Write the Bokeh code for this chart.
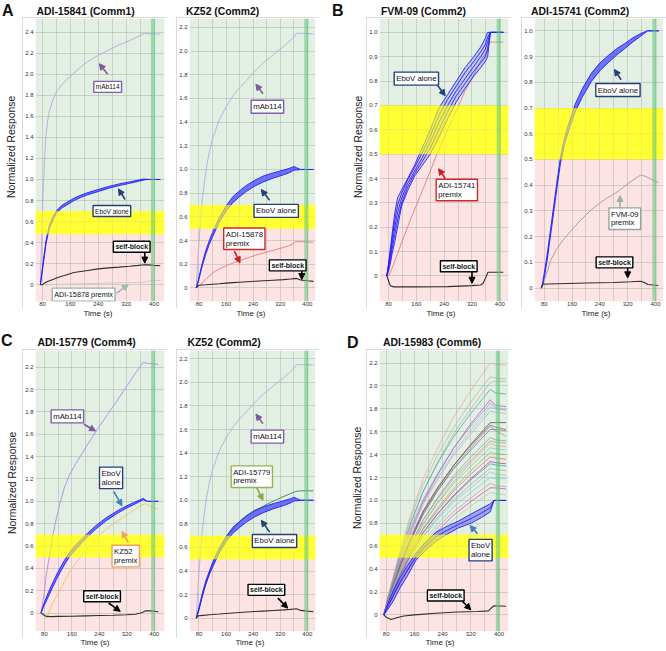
from bokeh.plotting import figure
from bokeh.models import (Range1d, BoxAnnotation, Label, Arrow, NormalHead,
                          FixedTicker, CustomJSTickFormatter, Div, Spacer)
from bokeh.layouts import row, column
from bokeh.embed import file_html
from bokeh.resources import INLINE

FONT = "Liberation Sans"
CSS_FONT = "'Liberation Sans', Arial, sans-serif"
GREEN_BG = "#e3efe3"
PINK_BG = "#fde3e3"
YELLOW = "#ffff33"
VBAND = "#5cc47a"
EBOV = "#1f1fff"
SELF = "#2e2e2e"
NAVY = "#22407a"
PURPLE = "#7f5fa8"
RED = "#cc2a2a"

# ---------------- ticks ----------------
X_TICKS = [80, 160, 240, 320, 400]
X_GRID = [40, 80, 120, 160, 200, 240, 280, 320, 360, 400, 440]
Y_TICKS_24 = [0, 0.2, 0.4, 0.6, 0.8, 1.0, 1.2, 1.4, 1.6, 1.8, 2.0, 2.2, 2.4]
Y_TICKS_22 = [0, 0.2, 0.4, 0.6, 0.8, 1.0, 1.2, 1.4, 1.6, 1.8, 2.0, 2.2]
Y_TICKS_10 = [0, 0.1, 0.2, 0.3, 0.4, 0.5, 0.6, 0.7, 0.8, 0.9, 1.0]

# ---------------- A1: ADI-15841 (Comm1) ----------------
A1_T = [74, 78, 82, 86, 90, 95, 100, 110, 120, 135, 150, 170, 190, 210, 240, 270, 300, 330, 355, 372, 385, 400, 418]
A1_MAB = [0, 0.45, 0.9, 1.2, 1.42, 1.56, 1.65, 1.76, 1.83, 1.9, 1.95, 2.01, 2.07, 2.12, 2.18, 2.23, 2.28, 2.32, 2.36, 2.39, 2.385, 2.385, 2.38]
A1_EBOV_HI = [0, 0.11, 0.215, 0.315, 0.415, 0.495, 0.565, 0.643, 0.703, 0.752, 0.782, 0.821, 0.851, 0.875, 0.905, 0.934, 0.958, 0.977, 0.994, 1.004, 1.0, 1.0, 1.0]
A1_EBOV_LO = [0, 0.09, 0.185, 0.285, 0.385, 0.465, 0.535, 0.617, 0.677, 0.728, 0.758, 0.799, 0.829, 0.855, 0.885, 0.916, 0.942, 0.963, 0.982, 0.996, 1.0, 1.0, 1.0]
A1_SELF = [0, 0, 0.005, 0.015, 0.022, 0.03, 0.037, 0.05, 0.063, 0.08, 0.095, 0.115, 0.125, 0.135, 0.15, 0.16, 0.167, 0.175, 0.183, 0.19, 0.188, 0.183, 0.18]
A1_PREMIX_T = [74, 100, 150, 200, 270, 330, 372, 385, 400, 418]
A1_PREMIX = [0, 0.0, 0.005, 0.01, 0.015, 0.02, 0.022, 0.035, 0.04, 0.04]

# ---------------- KZ52 (Comm2), shared by A2 and C2 ----------------
K_T = [72, 78, 84, 90, 100, 110, 120, 140, 160, 180, 200, 220, 245, 270, 300, 330, 350, 361, 368, 380, 400, 418]
K_MAB = [0, 0.3, 0.55, 0.75, 0.98, 1.14, 1.26, 1.42, 1.53, 1.62, 1.69, 1.75, 1.83, 1.9, 1.97, 2.04, 2.09, 2.12, 2.15, 2.15, 2.15, 2.145]
K_EBOV_HI = [0, 0.068, 0.14, 0.212, 0.315, 0.395, 0.468, 0.595, 0.692, 0.77, 0.82, 0.865, 0.91, 0.945, 0.972, 0.995, 1.013, 1.025, 1.015, 1.0, 1.0, 1.0]
K_EBOV_LO = [0, 0.052, 0.12, 0.188, 0.285, 0.365, 0.432, 0.555, 0.648, 0.72, 0.77, 0.815, 0.86, 0.895, 0.928, 0.955, 0.977, 0.995, 0.995, 1.0, 1.0, 1.0]
K_SELF = [0, 0.02, 0.022, 0.024, 0.026, 0.029, 0.031, 0.035, 0.04, 0.044, 0.048, 0.052, 0.056, 0.06, 0.065, 0.07, 0.075, 0.078, 0.08, 0.066, 0.06, 0.055]
A2_PREMIX_T = [72, 80, 100, 119, 140, 167, 200, 230, 264, 290, 322, 345, 356, 365, 380, 418]
A2_PREMIX = [0, 0.02, 0.07, 0.125, 0.16, 0.195, 0.23, 0.26, 0.29, 0.31, 0.335, 0.355, 0.37, 0.39, 0.39, 0.385]
C2_PREMIX_T = [72, 80, 90, 100, 109, 128, 150, 167, 190, 215, 240, 264, 290, 320, 345, 366, 380, 418]
C2_PREMIX = [0, 0.07, 0.19, 0.29, 0.37, 0.52, 0.63, 0.71, 0.79, 0.86, 0.91, 0.94, 0.98, 1.02, 1.05, 1.075, 1.08, 1.08]

# ---------------- B1: FVM-09 (Comm2) ----------------
B1_T = [75, 80, 85, 90, 98, 106, 118, 135, 155, 175, 200, 225, 250, 275, 300, 325, 345, 358, 365, 373, 390, 410]
B1_EBOV_1 = [0, 0.05, 0.11, 0.17, 0.26, 0.32, 0.355, 0.40, 0.455, 0.52, 0.60, 0.69, 0.745, 0.80, 0.855, 0.90, 0.94, 0.975, 1.0, 1.0, 1.0, 1.0]
B1_EBOV_2 = [0, 0.045, 0.095, 0.15, 0.23, 0.29, 0.34, 0.395, 0.445, 0.5, 0.575, 0.66, 0.725, 0.78, 0.835, 0.88, 0.92, 0.95, 0.98, 1.0, 1.0, 1.0]
B1_EBOV_3 = [0, 0.04, 0.08, 0.13, 0.2, 0.26, 0.32, 0.38, 0.43, 0.48, 0.55, 0.63, 0.70, 0.76, 0.81, 0.86, 0.9, 0.93, 0.96, 1.0, 1.0, 1.0]
B1_EBOV_4 = [0, 0.03, 0.065, 0.11, 0.17, 0.23, 0.3, 0.365, 0.42, 0.465, 0.525, 0.60, 0.675, 0.74, 0.79, 0.84, 0.875, 0.9, 0.93, 1.0, 1.0, 1.0]
B1_EBOV_5 = [0, 0.02, 0.05, 0.09, 0.14, 0.2, 0.29, 0.35, 0.41, 0.45, 0.5, 0.57, 0.645, 0.715, 0.77, 0.82, 0.855, 0.88, 0.9, 1.0, 1.0, 1.0]
B1_PREMIX_T = [75, 80, 90, 100, 120, 140, 160, 180, 200, 219, 250, 282, 300, 320, 340, 355, 362, 368, 380, 410]
B1_PREMIX = [0, 0.0, 0.03, 0.07, 0.145, 0.22, 0.29, 0.36, 0.43, 0.5, 0.6, 0.7, 0.76, 0.81, 0.87, 0.905, 0.92, 0.96, 0.96, 0.96]
B1_SELF_T = [75, 80, 85, 95, 150, 250, 320, 345, 352, 360, 366, 380, 410]
B1_SELF = [0, -0.02, -0.04, -0.045, -0.045, -0.044, -0.04, -0.037, -0.03, -0.005, 0.015, 0.015, 0.015]

# ---------------- B2: ADI-15741 (Comm2) ----------------
B2_T = [72, 76, 80, 85, 90, 95, 100, 110, 118, 127, 140, 155, 169, 190, 216, 240, 264, 290, 311, 335, 358, 377, 390, 410]
B2_EBOV_HI = [0, 0.025, 0.058, 0.1, 0.147, 0.197, 0.247, 0.347, 0.427, 0.512, 0.593, 0.659, 0.715, 0.776, 0.836, 0.875, 0.904, 0.932, 0.95, 0.973, 0.99, 1.0, 1.0, 1.0]
B2_EBOV_LO = [0, 0.015, 0.042, 0.08, 0.123, 0.173, 0.223, 0.323, 0.403, 0.488, 0.567, 0.631, 0.685, 0.744, 0.804, 0.845, 0.876, 0.908, 0.93, 0.957, 0.98, 1.0, 1.0, 1.0]
B2_PREMIX_T = [71, 75, 80, 90, 99, 115, 136, 155, 175, 200, 220, 240, 260, 280, 296, 315, 335, 358, 370, 385, 408]
B2_PREMIX = [0, 0.01, 0.03, 0.07, 0.11, 0.15, 0.19, 0.22, 0.25, 0.285, 0.31, 0.33, 0.35, 0.365, 0.38, 0.4, 0.42, 0.44, 0.435, 0.425, 0.41]
B2_SELF_T = [71, 76, 90, 120, 200, 280, 330, 358, 368, 378, 395, 408]
B2_SELF = [0, 0.015, 0.016, 0.017, 0.02, 0.022, 0.025, 0.027, 0.022, 0.014, 0.012, 0.01]

# ---------------- C1: ADI-15779 (Comm4) ----------------
C1_T = [70, 78, 85, 95, 104, 115, 125, 138, 152, 170, 190, 210, 229, 260, 296, 320, 344, 368, 380, 400, 412]
C1_MAB = [0, 0.15, 0.33, 0.52, 0.69, 0.85, 0.98, 1.12, 1.23, 1.33, 1.43, 1.53, 1.62, 1.76, 1.92, 2.03, 2.14, 2.245, 2.235, 2.23, 2.225]
C1_EBOV_HI = [0, 0.08, 0.135, 0.21, 0.27, 0.34, 0.4, 0.47, 0.54, 0.605, 0.668, 0.726, 0.78, 0.853, 0.921, 0.96, 0.994, 1.026, 1.0, 1.0, 1.0]
C1_EBOV_LO = [0, 0.06, 0.105, 0.17, 0.23, 0.3, 0.36, 0.43, 0.5, 0.565, 0.632, 0.694, 0.75, 0.827, 0.899, 0.94, 0.976, 1.014, 1.0, 1.0, 1.0]
C1_PREMIX_T = [70, 80, 87, 95, 104, 115, 125, 138, 152, 165, 180, 195, 210, 230, 248, 265, 280, 306, 325, 340, 355, 373, 390, 412]
C1_PREMIX = [0, -0.03, -0.045, 0.02, 0.09, 0.15, 0.2, 0.28, 0.36, 0.42, 0.48, 0.54, 0.59, 0.66, 0.72, 0.76, 0.8, 0.85, 0.89, 0.92, 0.95, 0.98, 0.95, 0.93]
C1_SELF_T = [70, 78, 85, 100, 120, 160, 200, 240, 280, 320, 345, 360, 368, 375, 390, 412]
C1_SELF = [0, -0.015, -0.03, -0.032, -0.03, -0.028, -0.025, -0.022, -0.02, -0.015, -0.01, 0.0, 0.01, 0.02, 0.02, 0.012]

# ---------------- D: ADI-15983 (Comm6) ----------------
D_T = [73, 85, 100, 120, 150, 185, 225, 270, 320, 375, 390, 420]
D_VALUES = [
    [0, 0.15, 0.33, 0.57, 0.88, 1.19, 1.45, 1.72, 1.96, 2.20, 2.19, 2.18],
    [0, 0.16, 0.33, 0.56, 0.85, 1.14, 1.39, 1.63, 1.86, 2.08, 2.07, 2.06],
    [0, 0.13, 0.29, 0.51, 0.79, 1.08, 1.33, 1.58, 1.80, 2.03, 2.04, 2.04],
    [0, 0.15, 0.31, 0.53, 0.81, 1.08, 1.32, 1.55, 1.76, 1.97, 1.94, 1.93],
    [0, 0.12, 0.27, 0.47, 0.73, 0.99, 1.22, 1.45, 1.67, 1.88, 1.83, 1.82],
    [0, 0.14, 0.29, 0.50, 0.76, 1.01, 1.23, 1.45, 1.65, 1.85, 1.81, 1.79],
    [0, 0.12, 0.26, 0.46, 0.71, 0.97, 1.19, 1.41, 1.61, 1.82, 1.80, 1.79],
    [0, 0.13, 0.28, 0.48, 0.73, 0.97, 1.18, 1.39, 1.58, 1.78, 1.77, 1.76],
    [0, 0.11, 0.24, 0.43, 0.66, 0.90, 1.10, 1.30, 1.49, 1.68, 1.68, 1.68],
    [0, 0.13, 0.27, 0.45, 0.68, 0.91, 1.11, 1.30, 1.48, 1.66, 1.64, 1.62],
    [0, 0.11, 0.24, 0.42, 0.65, 0.88, 1.08, 1.28, 1.46, 1.65, 1.61, 1.56],
    [0, 0.12, 0.25, 0.43, 0.66, 0.88, 1.08, 1.27, 1.44, 1.62, 1.62, 1.61],
    [0, 0.10, 0.22, 0.39, 0.61, 0.83, 1.02, 1.21, 1.38, 1.55, 1.53, 1.52],
    [0, 0.11, 0.24, 0.40, 0.62, 0.83, 1.01, 1.19, 1.35, 1.52, 1.51, 1.50],
    [0, 0.10, 0.22, 0.38, 0.59, 0.80, 0.98, 1.16, 1.33, 1.50, 1.48, 1.47],
    [0, 0.11, 0.23, 0.39, 0.59, 0.79, 0.97, 1.14, 1.30, 1.46, 1.45, 1.44],
    [0, 0.09, 0.20, 0.36, 0.56, 0.76, 0.93, 1.10, 1.26, 1.42, 1.41, 1.40],
    [0, 0.10, 0.21, 0.36, 0.56, 0.75, 0.91, 1.08, 1.23, 1.38, 1.37, 1.36],
    [0, 0.09, 0.19, 0.34, 0.53, 0.72, 0.88, 1.04, 1.19, 1.34, 1.33, 1.32],
    [0, 0.10, 0.21, 0.35, 0.53, 0.72, 0.88, 1.03, 1.18, 1.32, 1.31, 1.30],
    [0, 0.09, 0.19, 0.33, 0.51, 0.69, 0.85, 1.00, 1.14, 1.28, 1.27, 1.26],
    [0, 0.09, 0.19, 0.33, 0.50, 0.68, 0.83, 0.98, 1.11, 1.25, 1.23, 1.22],
    [0, 0.08, 0.18, 0.31, 0.48, 0.65, 0.79, 0.94, 1.07, 1.20, 1.19, 1.19],
    [0, 0.08, 0.17, 0.30, 0.46, 0.62, 0.76, 0.90, 1.02, 1.15, 1.13, 1.12],
    [0, 0.08, 0.17, 0.29, 0.44, 0.60, 0.73, 0.87, 0.99, 1.11, 1.11, 1.10],
    [0, 0.07, 0.16, 0.28, 0.43, 0.58, 0.71, 0.83, 0.95, 1.07, 1.06, 1.05],
]
D_COLORS = ["#e9a3a3", "#9cc47c", "#b4a0d8", "#3aa39a", "#c23fbf", "#8b8bd0", "#7fc6e6",
            "#d0a0c8", "#3a3a3a", "#b05050", "#8c8c8c", "#6a64b0", "#5cb85c", "#c77dc7",
            "#e3a15a", "#5fc9c9", "#a8a83c", "#d66090", "#c0208a", "#4a86c8", "#86b886",
            "#a9aee6", "#5fd4d4", "#e07fc0", "#d03fa0", "#9fd09f"]
D_EB_T = [73, 85, 100, 120, 140, 165, 190, 220, 250, 285, 320, 350, 375, 386, 420]
D_EBOV_HI = [0, 0.1, 0.21, 0.33, 0.43, 0.54, 0.63, 0.72, 0.77, 0.82, 0.88, 0.93, 0.97, 1.0, 1.0]
D_EBOV_MID = [0, 0.075, 0.165, 0.285, 0.385, 0.51, 0.595, 0.68, 0.735, 0.79, 0.84, 0.89, 0.935, 1.0, 1.0]
D_EBOV_LO = [0, 0.05, 0.12, 0.24, 0.34, 0.48, 0.56, 0.64, 0.7, 0.76, 0.8, 0.85, 0.9, 1.0, 1.0]
D_SELF_T = [73, 80, 94, 110, 130, 160, 220, 280, 340, 370, 378, 386, 420]
D_SELF = [0, -0.02, -0.04, -0.025, -0.01, 0.0, 0.015, 0.025, 0.03, 0.035, 0.06, 0.08, 0.075]

# ---------------- text outside the plot boxes: (left, top, size, text) ----------------
TOP_HEADER = [(2, 2.5, 16, "A"), (36.5, 7, 10.4, "ADI-15841 (Comm1)"), (186, 7, 10.4, "KZ52 (Comm2)"),
              (332, 2.5, 16, "B"), (381, 7, 10.4, "FVM-09 (Comm2)"), (531, 7, 10.4, "ADI-15741 (Comm2)")]
BOT_HEADER = [(1, 12.5, 16, "C"), (37.5, 17.5, 10.4, "ADI-15779 (Comm4)"),
              (187.5, 17.5, 10.4, "KZ52 (Comm2)"),
              (347, 14.5, 16, "D"), (383, 18, 10.4, "ADI-15983 (Comm6)")]
XLABEL_CENTERS_TOP = [98, 251, 441, 596]
XLABEL_CENTERS_BOT = [95, 250, 440]


def header_div(width, height, items):
    spans = "".join(
        f'<span style="position:absolute;left:{x}px;top:{t}px;font-size:{s}px;font-weight:bold;'
        f'line-height:1;white-space:nowrap;color:#111;">{txt}</span>'
        for x, t, s, txt in items)
    html = (f'<div style="position:relative;width:{width}px;height:{height}px;'
            f'font-family:{CSS_FONT};">{spans}</div>')
    return Div(text=html, width=width, height=height, margin=(0, 0, 0, 0))


def xlabel_div(width, height, centers, top):
    spans = "".join(
        f'<span style="position:absolute;left:{c - 20}px;width:40px;top:{top}px;text-align:center;'
        f'font-size:8px;line-height:1;white-space:nowrap;color:#222;">Time (s)</span>'
        for c in centers)
    html = (f'<div style="position:relative;width:{width}px;height:{height}px;'
            f'font-family:{CSS_FONT};">{spans}</div>')
    return Div(text=html, width=width, height=height, margin=(0, 0, 0, 0))


def ylabel_div(width, height, cx, cy):
    html = (f'<div style="position:relative;width:{width}px;height:{height}px;font-family:{CSS_FONT};">'
            f'<span style="position:absolute;left:{cx - 6}px;top:{cy - 53}px;height:106px;width:12px;'
            f'writing-mode:vertical-rl;transform:rotate(180deg);text-align:center;'
            f'font-size:10.4px;line-height:12px;white-space:nowrap;color:#222;">'
            f'Normalized Response</span></div>')
    return Div(text=html, width=width, height=height, margin=(0, 0, 0, 0))


def make_fig(w, h, xr, yr, yticks, yellow_lo=0.5, left=11):
    p = figure(width=w, height=h, x_range=Range1d(*xr), y_range=Range1d(*yr),
               output_backend="svg", toolbar_location=None,
               min_border_left=left, min_border_right=3, min_border_top=1, min_border_bottom=7,
               styles={"outline": "1px solid #cfcfcf", "outline-offset": "-1px"})
    p.outline_line_color = None
    p.background_fill_color = "white"
    p.xaxis.ticker = FixedTicker(ticks=X_TICKS)
    p.yaxis.ticker = FixedTicker(ticks=yticks)
    p.yaxis.formatter = CustomJSTickFormatter(code="return tick == 0 ? '0' : tick.toFixed(1);")
    p.xgrid.ticker = FixedTicker(ticks=X_GRID)
    p.ygrid.ticker = FixedTicker(ticks=yticks)
    p.grid.grid_line_color = "#aab4aa"
    p.grid.grid_line_alpha = 0.5
    p.grid.grid_line_width = 1
    for ax in (p.xaxis, p.yaxis):
        ax.axis_line_color = None
        ax.major_tick_line_color = None
        ax.minor_tick_line_color = None
        ax.major_tick_out = 0
        ax.major_tick_in = 0
        ax.minor_tick_out = 0
        ax.major_label_text_font = FONT
        ax.major_label_text_font_size = "6px"
        ax.major_label_text_color = "#333333"
    p.xaxis.major_label_standoff = 0
    p.yaxis.major_label_standoff = 2

    p.add_layout(BoxAnnotation(bottom=0.7, fill_color=GREEN_BG, fill_alpha=1,
                               line_color=None, level="image"))
    p.add_layout(BoxAnnotation(top=yellow_lo, fill_color=PINK_BG, fill_alpha=1,
                               line_color=None, level="image"))
    p.add_layout(BoxAnnotation(bottom=yellow_lo, top=0.7, fill_color=YELLOW, fill_alpha=1,
                               line_color=None, level="image"))
    return p


def overlays(p, yellow_lo=0.5):
    p.add_layout(BoxAnnotation(bottom=yellow_lo, top=0.7, fill_color=YELLOW, fill_alpha=0.62,
                               line_color=None, level="annotation"))
    p.add_layout(BoxAnnotation(left=391, right=403, fill_color=VBAND, fill_alpha=0.55,
                               line_color=None, level="annotation"))


def bundle(p, t, lo, hi, mids=()):
    p.varea(x=t, y1=lo, y2=hi, fill_color=EBOV, fill_alpha=0.6)
    for arr in (lo, hi) + tuple(mids):
        p.line(t, arr, line_color=EBOV, line_width=0.9)


def callout(p, text, x, y, border, arrow, arrow_color, size="7.8px", align="center",
            bold=False):
    x0, y0, x1, y1 = arrow
    p.add_layout(Arrow(end=NormalHead(size=6, fill_color=arrow_color, line_color=arrow_color,
                                      line_width=1),
                       x_start=x0, y_start=y0, x_end=x1, y_end=y1,
                       line_color=arrow_color, line_width=1.6))
    p.add_layout(Label(x=x, y=y, text=text, text_font=FONT, text_font_size=size,
                       text_font_style="bold" if bold else "normal",
                       text_align=align, text_baseline="middle", text_color="#111111",
                       background_fill_color="white", border_line_color=border,
                       border_line_width=1.4, padding=2, text_line_height=0.95))


SELF_SIZE = "7px"
TOP_H = 291
BOT_H = 289

# ======== A1 ========
pA1 = make_fig(145, TOP_H, (60, 430), (-0.16, 2.53), Y_TICKS_24, yellow_lo=0.48)
pA1.line(A1_PREMIX_T, A1_PREMIX, line_color="#c9c9c9", line_width=0.9)
pA1.line(A1_T, A1_MAB, line_color="#b3a9da", line_width=0.9)
bundle(pA1, A1_T, A1_EBOV_LO, A1_EBOV_HI)
pA1.line(A1_T, A1_SELF, line_color=SELF, line_width=1.1)
overlays(pA1, 0.48)
callout(pA1, "mAb114", 267, 1.88, PURPLE, (267, 2.0, 243, 2.10), "#7b5a9e", size="6.5px")
callout(pA1, "EboV alone", 279, 0.70, NAVY, (317, 0.81, 298, 0.91), NAVY, size="6.5px")
callout(pA1, "self-block", 336, 0.36, "black", (373.5, 0.30, 373.5, 0.205), "black",
        size=SELF_SIZE, bold=True)
callout(pA1, "ADI-15878 premix", 198, -0.095, "#9db3ab", (293, -0.08, 326, 0.0), "#a3b9b2",
        size="7.3px")

# ======== A2 ========
pA2 = make_fig(142, TOP_H, (52, 424), (-0.115, 2.275), Y_TICKS_22)
pA2.line(K_T, K_MAB, line_color="#a9b1e6", line_width=0.9)
pA2.line(A2_PREMIX_T, A2_PREMIX, line_color="#e67a7a", line_width=0.9)
bundle(pA2, K_T, K_EBOV_LO, K_EBOV_HI)
pA2.line(K_T, K_SELF, line_color=SELF, line_width=1.1)
overlays(pA2)
callout(pA2, "mAb114", 282, 1.53, PURPLE, (269, 1.64, 248, 1.72), "#7b5a9e")
callout(pA2, "EboV alone", 308, 0.65, NAVY, (288.5, 0.74, 264, 0.83), NAVY)
callout(pA2, "ADI-15878\npremix", 153, 0.415, RED, (185, 0.31, 201, 0.21), "#cc2020",
        align="left")
callout(pA2, "self-block", 342, 0.19, "black", (383.6, 0.15, 383.6, 0.07), "black",
        size=SELF_SIZE, bold=True)

# ======== B1 ========
pB1 = make_fig(145, TOP_H, (54, 425), (-0.105, 1.057), Y_TICKS_10, left=12)
pB1.line(B1_PREMIX_T, B1_PREMIX, line_color="#e8788a", line_width=0.9)
pB1.varea(x=B1_T, y1=B1_EBOV_5, y2=B1_EBOV_1, fill_color=EBOV, fill_alpha=0.18)
for arr in (B1_EBOV_1, B1_EBOV_2, B1_EBOV_3, B1_EBOV_4, B1_EBOV_5):
    pB1.line(B1_T, arr, line_color=EBOV, line_width=0.9)
pB1.line(B1_SELF_T, B1_SELF, line_color=SELF, line_width=1.1)
overlays(pB1)
callout(pB1, "EboV alone", 160, 0.81, NAVY, (217, 0.79, 243, 0.74), NAVY)
callout(pB1, "ADI-15741\npremix", 217, 0.353, RED, (243, 0.40, 224, 0.44), "#cc2020",
        align="left")
callout(pB1, "self-block", 282, 0.04, "black", (320, 0.018, 320, -0.03), "black",
        size=SELF_SIZE, bold=True)

# ======== B2 ========
pB2 = make_fig(145, TOP_H, (52, 423), (-0.052, 1.048), Y_TICKS_10)
pB2.line(B2_PREMIX_T, B2_PREMIX, line_color="#a89590", line_width=0.9)
bundle(pB2, B2_T, B2_EBOV_LO, B2_EBOV_HI)
pB2.line(B2_SELF_T, B2_SELF, line_color=SELF, line_width=1.1)
overlays(pB2)
callout(pB2, "EboV alone", 292, 0.77, NAVY, (301, 0.81, 282, 0.85), NAVY)
callout(pB2, "FVM-09\npremix", 266, 0.27, "#8fa8a0", (298, 0.31, 298, 0.36), "#9ab3ab",
        align="left")
callout(pB2, "self-block", 282, 0.10, "black", (320, 0.085, 320, 0.04), "black",
        size=SELF_SIZE, bold=True)

# ======== C1 ========
pC1 = make_fig(145, BOT_H, (54, 430), (-0.165, 2.35), Y_TICKS_22)
pC1.line(C1_T, C1_MAB, line_color="#a98ee6", line_width=0.9)
pC1.line(C1_PREMIX_T, C1_PREMIX, line_color="#ecc46e", line_width=0.9)
bundle(pC1, C1_T, C1_EBOV_LO, C1_EBOV_HI)
pC1.line(C1_SELF_T, C1_SELF, line_color=SELF, line_width=1.1)
overlays(pC1)
callout(pC1, "mAb114", 147, 1.76, PURPLE, (195, 1.69, 229, 1.63), "#7b5a9e")
callout(pC1, "EboV\nalone", 240.6, 1.21, NAVY, (282, 1.09, 306, 0.96), "#3d7fc2",
        align="left")
callout(pC1, "KZ52\npremix", 277, 0.51, "#f5a05a", (325, 0.63, 306, 0.73), "#f5a05a",
        align="left")
callout(pC1, "self-block", 248, 0.15, "black", (267, 0.09, 301, 0.015), "black",
        size=SELF_SIZE, bold=True)

# ======== C2 ========
pC2 = make_fig(142, BOT_H, (52, 424), (-0.113, 2.27), Y_TICKS_22)
pC2.line(K_T, K_MAB, line_color="#a9b1e6", line_width=0.9)
pC2.line(C2_PREMIX_T, C2_PREMIX, line_color="#3d9a5c", line_width=1.0)
bundle(pC2, K_T, K_EBOV_LO, K_EBOV_HI)
pC2.line(K_T, K_SELF, line_color=SELF, line_width=1.1)
overlays(pC2)
callout(pC2, "mAb114", 282, 1.54, PURPLE, (269, 1.65, 248, 1.73), "#7b5a9e")
callout(pC2, "ADI-15779\npremix", 175, 1.20, "#8db64f", (250, 1.11, 269, 1.0), "#8aa83e",
        align="left")
callout(pC2, "EboV alone", 303, 0.655, NAVY, (288.5, 0.73, 264, 0.83), NAVY)
callout(pC2, "self-block", 279, 0.24, "black", (313, 0.17, 342, 0.085), "black",
        size=SELF_SIZE, bold=True)

# ======== D ========
pD = make_fig(145, BOT_H, (61, 427), (-0.145, 2.31), Y_TICKS_22, left=12)
for vals, col in zip(D_VALUES, D_COLORS):
    pD.line(D_T, vals, line_color=col, line_width=0.7)
pD.varea(x=D_EB_T, y1=D_EBOV_LO, y2=D_EBOV_HI, fill_color=EBOV, fill_alpha=0.35)
for arr in (D_EBOV_LO, D_EBOV_MID, D_EBOV_HI):
    pD.line(D_EB_T, arr, line_color=EBOV, line_width=0.9)
pD.line(D_SELF_T, D_SELF, line_color=SELF, line_width=1.1)
overlays(pD)
callout(pD, "EboV\nalone", 315, 0.566, NAVY, (339, 0.71, 318, 0.78), "#3d7fc2",
        align="left")
callout(pD, "self-block", 249, 0.17, "black", (296, 0.12, 320, 0.045), "black",
        size=SELF_SIZE, bold=True)

top_row = row(ylabel_div(22, TOP_H, 12, 129.5), pA1, Spacer(width=9, height=TOP_H), pA2,
              Spacer(width=32, height=TOP_H), ylabel_div(16, TOP_H, 9, 129.5), pB1,
              Spacer(width=10, height=TOP_H), pB2)
bot_row = row(ylabel_div(22, BOT_H, 12.5, 134), pC1, Spacer(width=9, height=BOT_H), pC2,
              Spacer(width=32, height=BOT_H), ylabel_div(16, BOT_H, 8, 129), pD)

layout = column(
    header_div(666, 17, TOP_HEADER),
    top_row,
    xlabel_div(666, 12, XLABEL_CENTERS_TOP, 1.5),
    header_div(666, 29, BOT_HEADER),
    bot_row,
    xlabel_div(666, 12, XLABEL_CENTERS_BOT, 1),
)
open("out.html", "w").write(file_html(layout, INLINE, title="EboV competition"))
